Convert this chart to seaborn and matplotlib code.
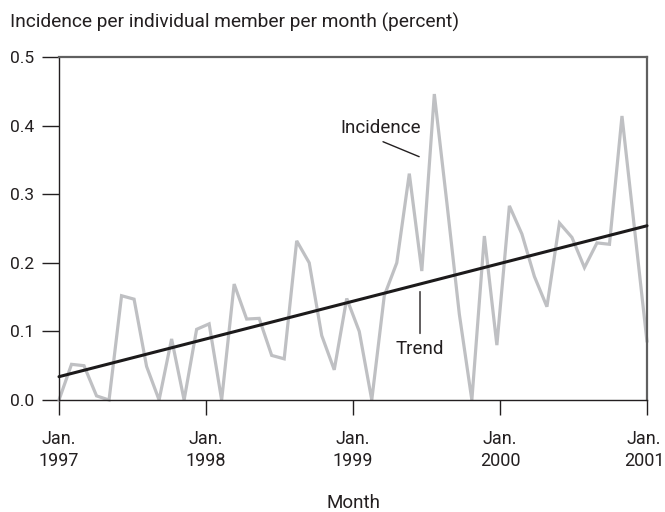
import numpy as np
import pandas as pd
import matplotlib
matplotlib.use("Agg")
import matplotlib.pyplot as plt
import matplotlib.transforms as mtransforms
import seaborn as sns

# Monthly incidence (percent), Jan. 1997 through Jan. 2001
incidence = [
    0.000, 0.052, 0.050, 0.006, 0.000, 0.152, 0.147, 0.049, 0.000, 0.089,
    0.000, 0.103, 0.111, 0.000, 0.169, 0.118, 0.119, 0.065, 0.060, 0.232,
    0.200, 0.094, 0.044, 0.148, 0.100, 0.000, 0.152, 0.200, 0.330, 0.188,
    0.446, 0.288, 0.125, 0.000, 0.239, 0.080, 0.283, 0.242, 0.180, 0.136,
    0.258, 0.237, 0.193, 0.229, 0.227, 0.414, 0.250, 0.085,
]
# Linear trend at the start and end of the period
trend_values = [0.034, 0.254]

years = ["1997", "1998", "1999", "2000", "2001"]
y_ticks = [0.0, 0.1, 0.2, 0.3, 0.4, 0.5]

sns.set_theme(style="ticks")
plt.rcParams["font.family"] = ["Roboto", "DejaVu Sans"]
plt.rcParams["text.color"] = "#231f20"

span = 12 * (len(years) - 1)
months = np.linspace(0, span, len(incidence))
df = pd.DataFrame({"month": months, "incidence": incidence})
trend_df = pd.DataFrame({"month": [0, span], "trend": trend_values})

fig = plt.figure(figsize=(6.65, 5.12), dpi=100)
ax = fig.add_axes([59 / 665, 1 - 400 / 512, 588 / 665, 343 / 512])

sns.lineplot(data=df, x="month", y="incidence", ax=ax, color="#bfc0c3",
             linewidth=2.3, solid_joinstyle="miter", clip_on=False, zorder=2)
sns.lineplot(data=trend_df, x="month", y="trend", ax=ax, color="#1c1a1b",
             linewidth=2.2, clip_on=False, zorder=3)

ax.set_xlim(0, span)
ax.set_ylim(0, 0.5)
ax.set_xlabel("")
ax.set_ylabel("")

ax.set_xticks(range(0, span + 1, 12))
ax.set_xticklabels([f"Jan.\n{y}" for y in years], linespacing=1.25)
ax.set_yticks(y_ticks)
ax.set_yticklabels([f"{v:.1f}" for v in y_ticks])

ax.tick_params(axis="y", length=12.2, width=1.0, pad=5.5, labelsize=12.5,
               color="#231f20", labelcolor="#231f20")
ax.tick_params(axis="x", length=10.8, width=1.0, pad=11, labelsize=13,
               color="#231f20", labelcolor="#231f20")

# Keep the last year label inside the figure edge
last = ax.get_xticklabels()[-1]
last.set_transform(last.get_transform() +
                   mtransforms.ScaledTranslation(-3 / 100, 0, fig.dpi_scale_trans))

for side in ("left", "bottom"):
    ax.spines[side].set_color("#231f20")
    ax.spines[side].set_linewidth(1.0)
for side in ("top", "right"):
    ax.spines[side].set_visible(True)
    ax.spines[side].set_color("#606060")
    ax.spines[side].set_linewidth(1.6)

# Series labels with leader lines
ax.text(26.3, 0.3965, "Incidence", ha="center", va="center", fontsize=13.5)
ax.annotate("", xy=(29.4, 0.3547), xytext=(26.45, 0.3765),
            arrowprops=dict(arrowstyle="-", color="#231f20", lw=1.0,
                            shrinkA=0, shrinkB=0))
ax.text(29.47, 0.0743, "Trend", ha="center", va="center", fontsize=13.5)
ax.annotate("", xy=(29.47, 0.097), xytext=(29.47, 0.158),
            arrowprops=dict(arrowstyle="-", color="#231f20", lw=1.0,
                            shrinkA=0, shrinkB=0))

fig.text(10 / 665, 1 - 28 / 512, "Incidence per individual member per month (percent)",
         ha="left", va="baseline", fontsize=13.8)
fig.text(353 / 665, 1 - 507.5 / 512, "Month", ha="center", va="baseline", fontsize=13.5)

fig.savefig("out.png", dpi=100, facecolor="white")
